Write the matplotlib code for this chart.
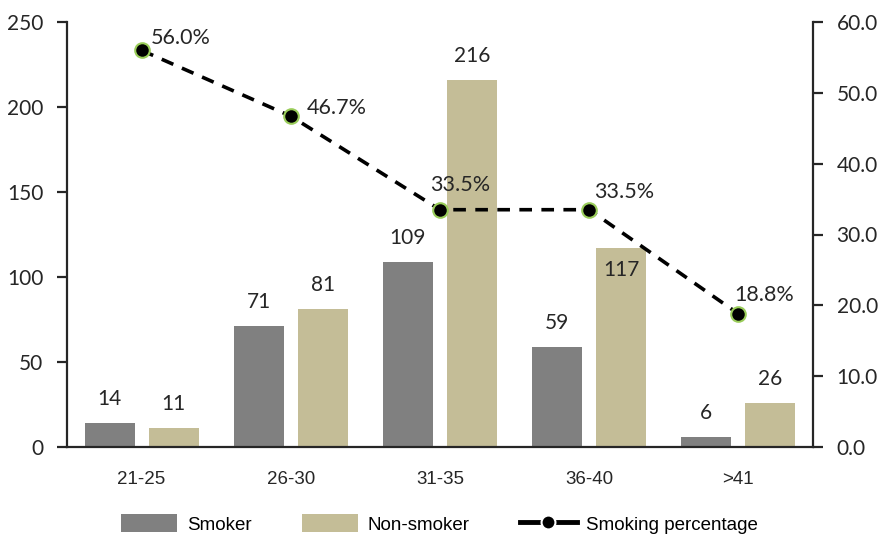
import matplotlib
matplotlib.use("Agg")
import matplotlib.pyplot as plt
from matplotlib.patches import Patch
from matplotlib.lines import Line2D
import numpy as np


age_groups = ["21-25", "26-30", "31-35", "36-40", ">41"]
smoker = [14, 71, 109, 59, 6]
non_smoker = [11, 81, 216, 117, 26]
smoking_pct = [56.0, 46.7, 33.5, 33.5, 18.8]

# where each percent label sits relative to its marker (pixels)
pct_offsets = [(39, 12), (46, 8), (20, 25), (35, 18), (26, 19)]
# bar labels that go inside the bar (series, index)
inside_labels = [(1, 3)]

num_font = "Lato"
txt_font = "Liberation Sans"
dark = "#262626"
grey = "#808080"
khaki = "#C4BD97"
green = "#9ACD5A"

fig = plt.figure(figsize=(8.79, 5.34), dpi=100)
ax = fig.add_axes([67 / 879, 87 / 534, 746 / 879, 425 / 534])
ax2 = ax.twinx()

x = np.arange(len(age_groups))
w = 0.335
off = 0.215

b1 = ax.bar(x - off, smoker, w, color=grey, zorder=2)
b2 = ax.bar(x + off, non_smoker, w, color=khaki, zorder=2)

for s, (bars, vals) in enumerate([(b1, smoker), (b2, non_smoker)]):
    for i, (rect, v) in enumerate(zip(bars, vals)):
        dy = -22 if (s, i) in inside_labels else 24
        ax.annotate(str(v), (rect.get_x() + rect.get_width() / 2, v),
                    xytext=(0, dy), textcoords="offset pixels",
                    ha="center", va="center", fontsize=15,
                    family=num_font, color=dark)

ax.set_xlim(-0.5, len(age_groups) - 0.5)
ax.set_ylim(0, 250)
ax.set_yticks(range(0, 251, 50))
ax.set_xticks(x)
ax.set_xticklabels(age_groups, family=txt_font, fontsize=13.5, color=dark)
ax.tick_params(axis="x", length=0, pad=17)
ax.tick_params(axis="y", length=7, width=1.6, color=dark, pad=10,
               labelsize=15, labelcolor=dark)
for lab in ax.get_yticklabels():
    lab.set_family(num_font)

for sp in ["top", "right"]:
    ax.spines[sp].set_visible(False)
for sp in ["left", "bottom"]:
    ax.spines[sp].set_linewidth(1.6)
    ax.spines[sp].set_color(dark)

# percentage line on the right axis
ax2.plot(x, smoking_pct, color="black", lw=2.6, ls=(0, (3.5, 2.6)),
         marker="o", markersize=10.5, markerfacecolor="black",
         markeredgecolor=green, markeredgewidth=1.5, zorder=3)
for xi, p, (dx, dy) in zip(x, smoking_pct, pct_offsets):
    ax2.annotate(f"{p:.1f}%", (xi, p), xytext=(dx, dy),
                 textcoords="offset pixels", ha="center", va="center",
                 fontsize=15.5, family=num_font, color=dark)

ax2.set_ylim(0, 60)
ax2.set_yticks(range(0, 61, 10))
ax2.set_yticklabels([f"{t:.1f}" for t in range(0, 61, 10)])
ax2.tick_params(axis="y", length=7, width=1.6, color=dark, pad=10,
                labelsize=15, labelcolor=dark)
for lab in ax2.get_yticklabels():
    lab.set_family(num_font)
for sp in ["top", "left", "bottom"]:
    ax2.spines[sp].set_visible(False)
ax2.spines["right"].set_linewidth(1.6)
ax2.spines["right"].set_color(dark)

handles = [
    Patch(facecolor=grey),
    Patch(facecolor=khaki),
    Line2D([], [], color="black", lw=3.5, marker="o", markersize=10,
           markerfacecolor="black", markeredgecolor="white",
           markeredgewidth=1.5),
]
fig.legend(handles, ["Smoker", "Non-smoker", "Smoking percentage"],
           loc="center", bbox_to_anchor=(0.5, 0.019), ncol=3, frameon=False,
           prop={"family": txt_font, "size": 13.5}, handlelength=3.0,
           handleheight=1.1, handletextpad=0.5, columnspacing=2.7)

fig.savefig("out.png", dpi=100)
